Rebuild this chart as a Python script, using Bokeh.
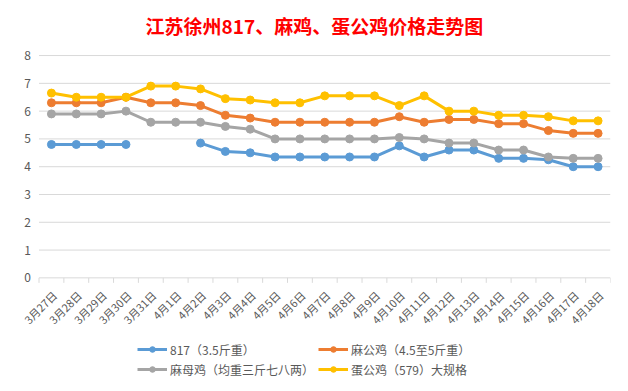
import math
from bokeh.plotting import figure
from bokeh.models import Legend, LegendItem, Range1d
from bokeh.core.properties import value
from bokeh.embed import file_html
from bokeh.resources import INLINE

dates = ["3月27日", "3月28日", "3月29日", "3月30日", "3月31日",
         "4月1日", "4月2日", "4月3日", "4月4日", "4月5日", "4月6日",
         "4月7日", "4月8日", "4月9日", "4月10日", "4月11日", "4月12日",
         "4月13日", "4月14日", "4月15日", "4月16日", "4月17日", "4月18日"]

nan = float("nan")
s817 = [4.8, 4.8, 4.8, 4.8, nan, nan, 4.85, 4.55, 4.5, 4.35, 4.35,
        4.35, 4.35, 4.35, 4.75, 4.35, 4.6, 4.6, 4.3, 4.3, 4.25, 4.0, 4.0]
ma_gong = [6.3, 6.3, 6.3, 6.5, 6.3, 6.3, 6.2, 5.85, 5.75, 5.6, 5.6,
           5.6, 5.6, 5.6, 5.8, 5.6, 5.7, 5.7, 5.55, 5.55, 5.3, 5.2, 5.2]
ma_mu = [5.9, 5.9, 5.9, 6.0, 5.6, 5.6, 5.6, 5.45, 5.35, 5.0, 5.0,
         5.0, 5.0, 5.0, 5.05, 5.0, 4.85, 4.85, 4.6, 4.6, 4.35, 4.3, 4.3]
dan_gong = [6.65, 6.5, 6.5, 6.5, 6.9, 6.9, 6.8, 6.45, 6.4, 6.3, 6.3,
            6.55, 6.55, 6.55, 6.2, 6.55, 6.0, 6.0, 5.85, 5.85, 5.8, 5.65, 5.65]

names = ["817（3.5斤重）", "麻公鸡（4.5至5斤重）", "麻母鸡（均重三斤七八两）", "蛋公鸡（579）大规格"]
colors = ["#5B9BD5", "#ED7D31", "#A5A5A5", "#FFC000"]
series = [s817, ma_gong, ma_mu, dan_gong]
y_ticks = [0, 1, 2, 3, 4, 5, 6, 7, 8]
y_labels = ["0", "1", "2", "3", "4", "5", "6", "7", "8"]

FONT = "Noto Sans CJK SC"
n = len(dates)
xs = list(range(n))
bounds = [i - 0.5 for i in range(n + 1)]

# The frame covers the whole chart box so that the rotated category labels,
# value labels and the legend (Bokeh clips center annotations) all fit.
p = figure(width=620, height=391, output_backend="svg", toolbar_location=None,
           x_range=Range1d(-2.05, n - 0.5), y_range=Range1d(-4.09, 8.29),
           min_border_left=0, min_border_right=10, min_border_top=46,
           min_border_bottom=0)
p.outline_line_color = None
p.background_fill_color = "white"
p.border_fill_color = "white"

p.title.text = "江苏徐州817、麻鸡、蛋公鸡价格走势图"
p.title.text_font = FONT
p.title.text_font_style = "bold"
p.title.text_font_size = "19px"
p.title.text_color = "#FF0000"
p.title.align = "left"
p.title.offset = 145
p.title.standoff = 18

p.xaxis.visible = False
p.yaxis.visible = False
p.xgrid.visible = False
p.ygrid.visible = False

# value gridlines and labels
p.segment(x0=[-0.5] * len(y_ticks), x1=[n - 0.5] * len(y_ticks),
          y0=y_ticks, y1=y_ticks, line_color="#D9D9D9", line_width=1)
p.text(x=[-0.5] * len(y_ticks), y=y_ticks, text=y_labels,
       text_align="right", text_baseline="middle", x_offset=-8,
       text_font=value(FONT), text_font_size="12px", text_color="#595959")

# category ticks at boundaries, and rotated category labels
p.ray(x=bounds, y=[0] * len(bounds), length=5, length_units="screen",
      angle=-math.pi / 2, line_color="#D9D9D9", line_width=1)
p.text(x=xs, y=[0] * n, text=dates, angle=math.pi / 4,
       text_align="right", text_baseline="middle",
       x_offset=3, y_offset=15,
       text_font=value(FONT), text_font_size="11px", text_color="#595959")

items = []
for name, col, ys in zip(names, colors, series):
    l = p.line(xs, ys, line_color=col, line_width=3)
    c = p.scatter(xs, ys, size=8, fill_color=col, line_color=col)
    items.append(LegendItem(label=name, renderers=[l, c]))

legend = Legend(items=items, orientation="horizontal", ncols=2,
                location=(137, 12), background_fill_alpha=0, border_line_color=None,
                label_text_font=FONT, label_text_font_size="12px",
                label_text_color="#595959", glyph_width=30, glyph_height=14,
                label_standoff=3, spacing=0, padding=0, margin=0,
                label_height=20, label_width=148)
p.add_layout(legend, "center")

open("out.html", "w").write(file_html(p, INLINE))
